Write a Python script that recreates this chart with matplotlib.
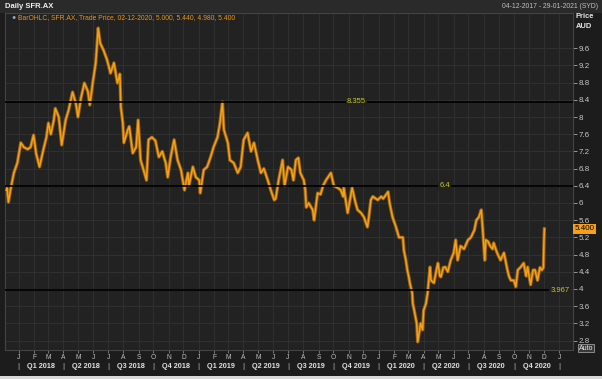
import pandas as pd
import numpy as np
import matplotlib
matplotlib.use("Agg")
import matplotlib.pyplot as plt
import matplotlib.transforms as mtransforms

# Daily SFR.AX trade price (approximate)
dates = [
    "2017-12-06", "2017-12-08", "2017-12-11", "2017-12-15", "2017-12-22", "2017-12-29",
    "2018-01-05", "2018-01-11", "2018-01-19", "2018-01-25", "2018-01-31", "2018-02-05",
    "2018-02-12", "2018-02-19", "2018-02-26", "2018-03-02", "2018-03-07", "2018-03-13",
    "2018-03-16", "2018-03-23", "2018-03-29", "2018-04-06", "2018-04-12", "2018-04-20",
    "2018-04-27", "2018-05-01", "2018-05-07", "2018-05-14", "2018-05-21", "2018-05-25",
    "2018-05-31", "2018-06-06", "2018-06-11", "2018-06-15", "2018-06-22", "2018-06-29",
    "2018-07-06", "2018-07-13", "2018-07-20", "2018-07-25", "2018-07-27", "2018-07-31",
    "2018-08-02", "2018-08-10", "2018-08-13", "2018-08-20", "2018-08-27", "2018-08-31",
    "2018-09-05", "2018-09-11", "2018-09-17", "2018-09-21", "2018-09-28", "2018-10-05",
    "2018-10-12", "2018-10-19", "2018-10-26", "2018-10-30", "2018-11-05", "2018-11-12",
    "2018-11-19", "2018-11-26", "2018-12-03", "2018-12-10", "2018-12-12", "2018-12-20",
    "2018-12-26", "2019-01-02", "2019-01-04", "2019-01-11", "2019-01-18", "2019-01-25",
    "2019-01-31", "2019-02-08", "2019-02-13", "2019-02-18", "2019-02-21", "2019-03-01",
    "2019-03-05", "2019-03-13", "2019-03-21", "2019-03-27", "2019-04-02", "2019-04-10",
    "2019-04-17", "2019-04-23", "2019-05-01", "2019-05-07", "2019-05-13", "2019-05-21",
    "2019-05-27", "2019-06-03", "2019-06-06", "2019-06-12", "2019-06-20", "2019-06-24",
    "2019-07-01", "2019-07-08", "2019-07-12", "2019-07-17", "2019-07-22", "2019-07-26",
    "2019-08-02", "2019-08-05", "2019-08-07", "2019-08-12", "2019-08-20", "2019-08-23",
    "2019-08-30", "2019-09-05", "2019-09-10", "2019-09-16", "2019-09-26", "2019-10-02",
    "2019-10-10", "2019-10-16", "2019-10-21", "2019-10-22", "2019-10-30", "2019-11-01",
    "2019-11-08", "2019-11-15", "2019-11-19", "2019-11-26", "2019-12-02", "2019-12-09",
    "2019-12-12", "2019-12-16", "2019-12-20", "2019-12-30", "2020-01-06", "2020-01-10",
    "2020-01-20", "2020-01-23", "2020-01-29", "2020-02-05", "2020-02-11", "2020-02-19",
    "2020-02-21", "2020-02-25", "2020-02-28", "2020-03-02", "2020-03-04", "2020-03-09",
    "2020-03-10", "2020-03-13", "2020-03-18", "2020-03-20", "2020-03-26", "2020-03-30",
    "2020-04-01", "2020-04-06", "2020-04-09", "2020-04-14", "2020-04-16", "2020-04-22",
    "2020-04-27", "2020-04-30", "2020-05-04", "2020-05-06", "2020-05-11", "2020-05-15",
    "2020-05-20", "2020-05-26", "2020-06-01", "2020-06-05", "2020-06-09", "2020-06-15",
    "2020-06-22", "2020-06-30", "2020-07-06", "2020-07-13", "2020-07-17", "2020-07-22",
    "2020-07-27", "2020-07-30", "2020-08-03", "2020-08-05", "2020-08-10", "2020-08-14",
    "2020-08-19", "2020-08-21", "2020-08-28", "2020-09-04", "2020-09-11", "2020-09-18",
    "2020-09-21", "2020-09-25", "2020-10-01", "2020-10-05", "2020-10-09", "2020-10-15",
    "2020-10-21", "2020-10-26", "2020-10-29", "2020-11-04", "2020-11-09", "2020-11-13",
    "2020-11-18", "2020-11-23", "2020-11-27", "2020-11-30", "2020-12-01", "2020-12-02",
]
prices = [
    6.30, 6.35, 6.02, 6.30, 6.70, 6.93,
    7.40, 7.30, 7.25, 7.30, 7.58, 7.16,
    6.84, 7.20, 7.53, 7.86, 7.60, 7.93,
    8.20, 8.00, 7.35, 7.93, 8.16, 8.58,
    8.30, 8.00, 8.44, 8.79, 8.60, 8.28,
    8.80, 9.26, 10.07, 9.72, 9.55, 9.33,
    9.02, 9.26, 8.79, 9.00, 8.23, 7.86,
    7.40, 7.70, 7.78, 7.16, 7.30, 7.93,
    7.00, 6.77, 6.53, 7.47, 7.53, 7.45,
    7.07, 7.20, 6.93, 6.60, 7.07, 7.47,
    7.00, 6.77, 6.30, 6.70, 6.40, 6.84,
    6.60, 6.53, 6.23, 6.77, 6.84, 7.07,
    7.30, 7.53, 7.86, 8.35, 7.70, 7.40,
    7.00, 6.93, 6.70, 6.84, 7.47, 7.63,
    7.20, 7.40, 6.98, 6.70, 6.80, 6.53,
    6.30, 6.07, 6.10, 6.53, 7.00, 6.40,
    6.84, 6.77, 6.53, 7.00, 7.05, 6.70,
    6.53, 6.30, 5.90, 6.00, 5.84, 5.60,
    6.23, 6.20, 6.40, 6.53, 6.70, 6.40,
    6.35, 6.30, 6.15, 6.35, 5.77, 5.90,
    6.35, 6.00, 5.84, 5.77, 5.67, 5.44,
    5.67, 6.07, 6.15, 6.07, 6.15, 6.10,
    6.26, 6.00, 5.67, 5.44, 5.20, 5.20,
    4.90, 4.67, 4.44, 4.28, 4.14, 3.90,
    3.67, 3.50, 3.20, 2.77, 3.20, 3.05,
    3.50, 3.67, 3.90, 4.51, 4.20, 4.14,
    4.44, 4.60, 4.30, 4.28, 4.50, 4.51,
    4.40, 4.67, 4.84, 5.14, 4.67, 5.00,
    4.93, 5.14, 5.20, 5.37, 5.60, 5.67,
    5.84, 5.37, 4.67, 5.14, 5.10, 5.00,
    4.93, 5.07, 4.84, 4.67, 4.84, 4.44,
    4.30, 4.20, 4.20, 4.05, 4.44, 4.51,
    4.60, 4.30, 4.51, 4.10, 4.44, 4.44,
    4.20, 4.50, 4.44, 4.50, 5.07, 5.40,
]

# Horizontal levels drawn on the chart
levels = [8.355, 6.4, 3.967]
level_labels = ["8.355", "6.4", "3.967"]

month_letters = ["J", "F", "M", "A", "M", "J", "J", "A", "S", "O", "N", "D"]
quarter_names = ["Q1", "Q2", "Q3", "Q4"]

dates = pd.to_datetime(dates)

BG = "#1c1c1c"
PLOT_BG = "#222222"
GRID = "#2f2f2f"
ORANGE = "#f5a01a"
LEVEL_TXT = "#c8c81e"
plt.rcParams["font.family"] = ["Liberation Sans", "DejaVu Sans"]

fig = plt.figure(figsize=(6.02, 3.79), dpi=100, facecolor=BG)
W, H = 602, 379
ax = fig.add_axes([5 / W, 1 - 350 / H, 568 / W, 337 / H], facecolor=PLOT_BG)

x_start = pd.Timestamp("2017-12-04")
x_end = pd.Timestamp("2021-01-29")
ax.set_xlim(x_start, x_end)
ax.set_ylim(2.58, 10.42)

# grid
month_starts = pd.date_range("2018-01-01", "2021-01-01", freq="MS")
for d in month_starts:
    ax.axvline(d, color=GRID, linewidth=0.8, zorder=0)
yticks = np.round(np.arange(2.8, 9.61, 0.4), 1)
for y in yticks:
    ax.axhline(y, color=GRID, linewidth=0.8, zorder=0)

# price line (darker halo to look like the OHLC bars)
ax.plot(dates, prices, color="#9a6410", linewidth=2.4, zorder=2)
ax.plot(dates, prices, color=ORANGE, linewidth=1.1, zorder=3)

# level lines
lvl_ends = [x_end, x_end, pd.Timestamp("2020-12-11")]
lvl_text_x = [pd.Timestamp("2019-11-17"), pd.Timestamp("2020-05-14"), pd.Timestamp("2020-12-14")]
lvl_ha = ["center", "center", "left"]
for lv, lab, end, tx, ha in zip(levels, level_labels, lvl_ends, lvl_text_x, lvl_ha):
    ax.plot([x_start, end], [lv, lv], color="black", linewidth=1.2, zorder=4)
    ax.text(tx, lv, lab, color=LEVEL_TXT, fontsize=5.5, ha=ha, va="center", zorder=5,
            bbox=dict(boxstyle="square,pad=0.15", facecolor=PLOT_BG, edgecolor="none"))

# right price axis
ax.yaxis.tick_right()
ax.set_yticks(yticks)
ax.set_yticklabels([f"{v:g}" for v in yticks])
ax.tick_params(axis="y", colors="#aaaaaa", labelcolor="#c8c8c8", labelsize=5.8,
               length=3, width=0.6, pad=1)

# month ticks
ax.set_xticks(month_starts)
ax.set_xticklabels([month_letters[d.month - 1] for d in month_starts])
ax.tick_params(axis="x", colors="#888888", labelcolor="#c0c0c0", labelsize=4.8,
               length=2, width=0.6, pad=1)

for s in ax.spines.values():
    s.set_color("#444444")
    s.set_linewidth(0.8)

# quarter labels and separators
trans = mtransforms.blended_transform_factory(ax.transData, ax.transAxes)
quarter_starts = pd.date_range("2018-01-01", "2021-01-01", freq="QS")
q_y = -0.05
for i, q in enumerate(quarter_starts):
    ax.text(q, q_y, "|", transform=trans, color="#c0c0c0", fontsize=6,
            ha="center", va="center", clip_on=False)
    if i < len(quarter_starts) - 1:
        mid = q + (quarter_starts[i + 1] - q) / 2
        ax.text(mid, q_y, f"{quarter_names[(q.month - 1) // 3]} {q.year}",
                transform=trans, color="#e0e0e0", fontsize=5.2, fontweight="bold",
                ha="center", va="center", clip_on=False)

# last price box
ax.text(1.003, prices[-1], f"{prices[-1]:.3f}",
        transform=mtransforms.blended_transform_factory(ax.transAxes, ax.transData),
        color="black", fontsize=5.8, ha="left", va="center", clip_on=False, zorder=6,
        bbox=dict(boxstyle="square,pad=0.2", facecolor=ORANGE, edgecolor="none"))

# header texts
fig.patches.append(plt.Rectangle((0, 1 - 13 / H), 1, 13 / H, transform=fig.transFigure,
                                 facecolor="#2a2a2a", edgecolor="none", zorder=0))
fig.text(5 / W, 1 - 6.5 / H, "Daily SFR.AX", color="#f0f0f0", fontsize=5.5,
         fontweight="bold", ha="left", va="center")
fig.text(598 / W, 1 - 6.5 / H, "04-12-2017 - 29-01-2021 (SYD)", color="#c0c0c0",
         fontsize=4.9, ha="right", va="center")
fig.text(14 / W, 1 - 17.5 / H, "\u25cf", color="#8fa8c8", fontsize=5, ha="center", va="center")
fig.text(18 / W, 1 - 17.5 / H, "BarOHLC, SFR.AX, Trade Price, 02-12-2020, 5.000, 5.440, 4.980, 5.400",
         color="#e8961a", fontsize=4.9, ha="left", va="center")
fig.text(576 / W, 1 - 17 / H, "Price", color="#e8e8e8", fontsize=5.4, fontweight="bold",
         ha="left", va="center")
fig.text(576 / W, 1 - 26 / H, "AUD", color="#e8e8e8", fontsize=5.4, fontweight="bold",
         ha="left", va="center")
fig.text(586 / W, 1 - 348 / H, "Auto", color="#e8e8e8", fontsize=5, ha="center", va="center",
         bbox=dict(boxstyle="square,pad=0.12", facecolor="#3a3a3a", edgecolor="#999999", linewidth=0.6))

# light strip at the bottom edge
fig.patches.append(plt.Rectangle((0, 0), 1, 3 / H, transform=fig.transFigure,
                                 facecolor="#d8d8d8", edgecolor="none", zorder=0))

fig.savefig("out.png", dpi=100, facecolor=BG)
